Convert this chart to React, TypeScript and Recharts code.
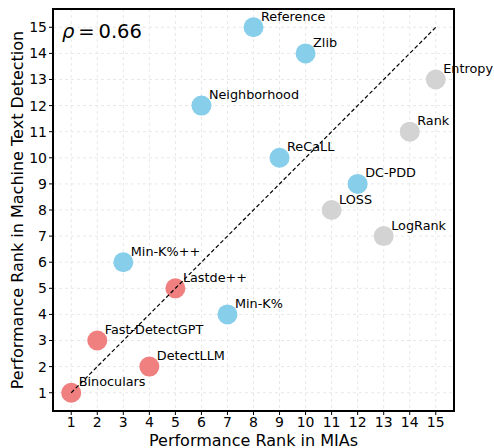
import React from 'react';
import { ScatterChart, Scatter, XAxis, YAxis, CartesianGrid, ReferenceArea } from 'recharts';

const methodNames = ['Binoculars', 'Fast-DetectGPT', 'Min-K%++', 'DetectLLM', 'Lastde++', 'Neighborhood', 'Min-K%', 'Reference', 'ReCaLL', 'Zlib', 'LOSS', 'DC-PDD', 'LogRank', 'Rank', 'Entropy'];
const miaRank = [1, 2, 3, 4, 5, 6, 7, 8, 9, 10, 11, 12, 13, 14, 15];
const mgtRank = [1, 3, 6, 2, 5, 12, 4, 15, 10, 14, 8, 9, 7, 11, 13];
const methodGroup = ['mgt', 'mgt', 'mia', 'mgt', 'mgt', 'mia', 'mia', 'mia', 'mia', 'mia', 'base', 'mia', 'base', 'base', 'base'];
const rankTicks = [1, 2, 3, 4, 5, 6, 7, 8, 9, 10, 11, 12, 13, 14, 15];
const diagonalEnds = [1, 15];
const rhoText = 'ρ';
const rhoValue = '\u2009=\u20090.66';

const groupColor: Record<string, string> = { mgt: '#F08080', mia: '#87CEEB', base: '#D3D3D3' };
const FONT = '"DejaVu Sans", sans-serif';
const DOMAIN: [number, number] = [0.3, 15.7];

const points = methodNames.map((name, i) => ({ name, x: miaRank[i], y: mgtRank[i], group: methodGroup[i] }));
const diagonal = diagonalEnds.map((v) => ({ x: v, y: v }));

const Dot = (p: any) => <circle cx={p.cx} cy={p.cy} r={10} fill={groupColor[p.payload.group]} />;
const NameLabel = (p: any) => (
  <text x={p.cx + 7.5} y={p.cy - 6.5} fontSize={12.8} fontFamily={FONT} fill="#000">{p.payload.name}</text>
);
const Nothing = () => <g />;

export default function App() {
  return (
    <div style={{ fontFamily: FONT, position: 'absolute', left: 0, top: 0 }}>
      <ScatterChart width={494} height={448} margin={{ top: 9, right: 40, bottom: 0, left: 8 }}>
        <CartesianGrid stroke="#e8e8e8" strokeDasharray="3 3" horizontalValues={rankTicks} verticalValues={rankTicks} />
        <XAxis
          type="number"
          dataKey="x"
          domain={DOMAIN}
          ticks={rankTicks}
          interval={0}
          height={37}
          axisLine={false}
          tickLine={{ stroke: '#000' }}
          tickSize={4}
          tickMargin={2}
          tick={{ fill: '#000', fontSize: 14, fontFamily: FONT }}
          label={{
            content: (lp: any) => {
              const vb = lp.viewBox;
              return (
                <text x={vb.x + vb.width / 2} y={vb.y + 34.5} textAnchor="middle" fontSize={16} fontFamily={FONT} fill="#000">
                  Performance Rank in MIAs
                </text>
              );
            },
          }}
        />
        <YAxis
          type="number"
          dataKey="y"
          domain={DOMAIN}
          ticks={rankTicks}
          interval={0}
          width={45}
          axisLine={false}
          tickLine={{ stroke: '#000' }}
          tickSize={4}
          tickMargin={2}
          tick={{ fill: '#000', fontSize: 14, fontFamily: FONT }}
          label={{
            content: (lp: any) => {
              const vb = lp.viewBox;
              const cx = 23;
              const cy = vb.y + vb.height / 2;
              return (
                <text x={cx} y={cy} transform={`rotate(-90 ${cx} ${cy})`} textAnchor="middle" fontSize={16} fontFamily={FONT} fill="#000">
                  Performance Rank in Machine Text Detection
                </text>
              );
            },
          }}
        />
        <ReferenceArea
          x1={DOMAIN[0]}
          x2={DOMAIN[1]}
          y1={DOMAIN[0]}
          y2={DOMAIN[1]}
          fill="none"
          fillOpacity={0}
          stroke="#000"
          strokeWidth={2}
          ifOverflow="visible"
          label={{
            content: (lp: any) => {
              const vb = lp.viewBox;
              return (
                <text x={vb.x + 9} y={vb.y + 29} fontSize={19.5} fontFamily={FONT} fill="#000">
                  <tspan fontStyle="italic">{rhoText}</tspan>
                  <tspan>{rhoValue}</tspan>
                </text>
              );
            },
          }}
        />
        <Scatter data={points} dataKey="y" shape={Dot} isAnimationActive={false} />
        <Scatter data={points} dataKey="y" shape={NameLabel} isAnimationActive={false} />
        <Scatter
          data={diagonal}
          dataKey="y"
          shape={Nothing}
          line={{ stroke: '#000', strokeWidth: 1.2, strokeDasharray: '4 2.4' }}
          isAnimationActive={false}
        />
      </ScatterChart>
    </div>
  );
}
